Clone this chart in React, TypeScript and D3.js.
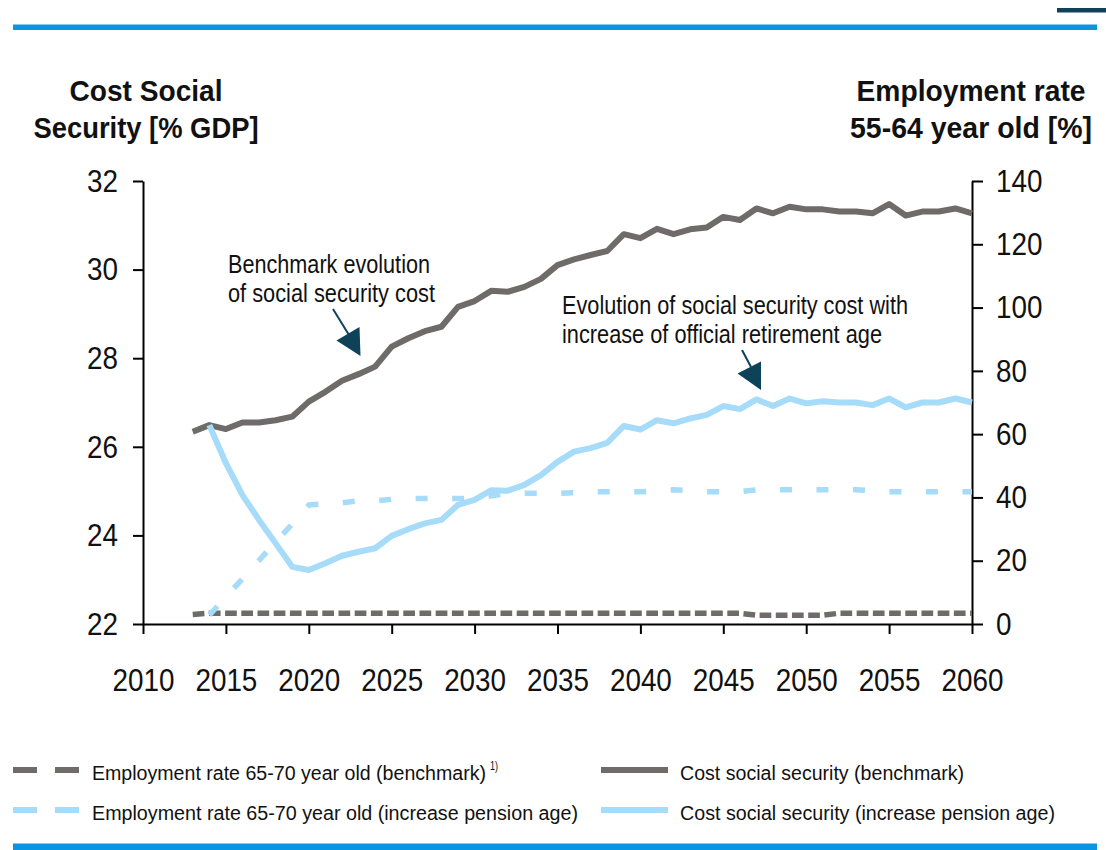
import React, { useEffect, useRef } from "react";
import * as d3 from "d3";

// ---- data ----
const costYears = d3.range(2013, 2061);
const costBenchmark = [
  26.34, 26.49, 26.4, 26.55, 26.55, 26.6, 26.68, 27.02, 27.24, 27.49, 27.64, 27.81,
  28.26, 28.45, 28.61, 28.71, 29.16, 29.29, 29.52, 29.5, 29.61, 29.79, 30.1, 30.23,
  30.33, 30.42, 30.8, 30.71, 30.92, 30.8, 30.91, 30.95, 31.19, 31.12, 31.38, 31.27,
  31.42, 31.36, 31.36, 31.31, 31.31, 31.27, 31.48, 31.22, 31.31, 31.31, 31.38, 31.27,
];
const incYears = d3.range(2014, 2061);
const costIncrease = [
  26.49, 25.63, 24.91, 24.35, 23.82, 23.29, 23.22, 23.37, 23.54, 23.63, 23.71, 23.99,
  24.14, 24.27, 24.35, 24.69, 24.8, 25.02, 25.01, 25.14, 25.36, 25.66, 25.89, 25.97,
  26.09, 26.47, 26.39, 26.6, 26.53, 26.64, 26.72, 26.92, 26.85, 27.07, 26.92, 27.09,
  26.98, 27.03, 27.0, 27.0, 26.94, 27.09, 26.89, 27.0, 27.0, 27.09, 27.0,
];
const empBenchmark = [
  3.0, 3.4, 3.4, 3.4, 3.4, 3.4, 3.4, 3.4, 3.4, 3.4, 3.4, 3.4, 3.4, 3.4, 3.4, 3.4,
  3.4, 3.4, 3.4, 3.4, 3.4, 3.4, 3.4, 3.4, 3.4, 3.4, 3.4, 3.4, 3.4, 3.4, 3.4, 3.4,
  3.4, 3.4, 2.8, 2.8, 2.8, 2.8, 2.8, 3.4, 3.4, 3.4, 3.4, 3.4, 3.4, 3.4, 3.4, 3.4,
];
const empIncrease = [
  2.8, 8.6, 14.3, 20.1, 25.9, 31.6, 37.6, 38.0, 38.3, 38.9, 38.9, 39.4, 39.6, 39.7,
  39.7, 39.7, 39.7, 40.5, 41.3, 41.3, 41.3, 41.3, 41.5, 41.8, 41.8, 41.8, 41.8, 42.1,
  42.4, 42.1, 41.8, 41.8, 41.8, 42.4, 42.4, 42.4, 42.4, 42.4, 42.4, 42.4, 42.1, 41.8,
  41.8, 41.8, 41.8, 41.8, 41.8,
];
const xTicks = [2010, 2015, 2020, 2025, 2030, 2035, 2040, 2045, 2050, 2055, 2060];
const leftTicks = [22, 24, 26, 28, 30, 32];
const rightTicks = [0, 20, 40, 60, 80, 100, 120, 140];
const leftTitle = ["Cost Social", "Security [% GDP]"];
const rightTitle = ["Employment rate", "55-64 year old [%]"];
const note1 = ["Benchmark evolution", "of social security cost"];
const note2 = ["Evolution of social security cost with", "increase of official retirement age"];
const legendItems = [
  { label: "Employment rate 65-70 year old (benchmark)", sup: "1)", kind: "dash", color: "gray" },
  { label: "Cost social security (benchmark)", sup: "", kind: "solid", color: "gray" },
  { label: "Employment rate 65-70 year old (increase pension age)", sup: "", kind: "dash", color: "blue" },
  { label: "Cost social security (increase pension age)", sup: "", kind: "solid", color: "blue" },
];

// text widths of the condensed typeface, in px (layout)
const leftTitleW = [153, 225];
const rightTitleW = [229, 242];
const note1W = [202, 207];
const note2W = [346, 320];
const legendW = [394, 284, 486, 375];

const GRAY = "#6f6b6b";
const BLUE = "#a6dbfa";
const TEAL = "#0d4259";
const RULE = "#0a94e4";
const FONT = "'Liberation Sans', Arial, sans-serif";
const CONDENSE = 0.87; // horizontal squeeze of tick digits

export default function App() {
  const ref = useRef<SVGSVGElement>(null);

  useEffect(() => {
    const svg = d3.select(ref.current);
    svg.selectAll("*").remove();
    const W = 1106, H = 850;
    const m = { left: 143, right: 972, top: 181, bottom: 624 };

    const x = d3.scaleLinear().domain([2010, 2060]).range([m.left, m.right]);
    const yL = d3.scaleLinear().domain([22, 32]).range([m.bottom, m.top]);
    const yR = d3.scaleLinear().domain([0, 140]).range([m.bottom, m.top]);

    const fit = (sel: any, w: number) => sel.attr("textLength", w).attr("lengthAdjust", "spacingAndGlyphs");

    svg.append("rect").attr("width", W).attr("height", H).attr("fill", "#fff");

    // top & bottom rules
    svg.append("rect").attr("x", 1057).attr("y", 8).attr("width", 49).attr("height", 4.5).attr("fill", TEAL);
    svg.append("rect").attr("x", 13).attr("y", 24.5).attr("width", 1084).attr("height", 5.5).attr("fill", RULE);
    svg.append("rect").attr("x", 13).attr("y", 843.5).attr("width", 1084).attr("height", 6.5).attr("fill", RULE);

    // titles
    const tTitle = svg.append("g").attr("font-family", FONT).attr("font-weight", "bold").attr("font-size", 30).attr("fill", "#111").attr("text-anchor", "middle");
    leftTitle.forEach((t, i) => fit(tTitle.append("text").attr("x", 146).attr("y", 101 + i * 36.5).text(t), leftTitleW[i]));
    rightTitle.forEach((t, i) => fit(tTitle.append("text").attr("x", 971).attr("y", 101 + i * 36.5).text(t), rightTitleW[i]));

    // axes
    const styleAxis = (g: any) => {
      g.selectAll("path").attr("stroke", "#000").attr("stroke-width", 2);
      g.selectAll("line").attr("stroke", "#000").attr("stroke-width", 2);
      g.selectAll("text").attr("font-family", FONT).attr("font-size", 32).attr("fill", "#111")
        .each(function (this: SVGTextElement) {
          const t = d3.select(this);
          const x0 = +(t.attr("x") || 0);
          const y0 = +(t.attr("y") || 0);
          t.attr("x", 0).attr("y", 0).attr("transform", `translate(${x0},${y0}) scale(${CONDENSE},1)`);
        });
    };
    svg.append("g").attr("transform", `translate(0,${m.bottom})`)
      .call(d3.axisBottom(x).tickValues(xTicks).tickFormat(d3.format("d")).tickSize(10).tickSizeOuter(0).tickPadding(34))
      .call(styleAxis);
    svg.append("g").attr("transform", `translate(${m.left},0)`)
      .call(d3.axisLeft(yL).tickValues(leftTicks).tickFormat(d3.format("d")).tickSize(10).tickSizeOuter(0).tickPadding(15))
      .call(styleAxis);
    svg.append("g").attr("transform", `translate(${m.right},0)`)
      .call(d3.axisRight(yR).tickValues(rightTicks).tickFormat(d3.format("d")).tickSize(11).tickSizeOuter(0).tickPadding(13))
      .call(styleAxis);
    svg.selectAll(".domain").attr("fill", "none");

    // lines
    const lineL = d3.line<[number, number]>().x((d) => x(d[0])).y((d) => yL(d[1]));
    const lineR = d3.line<[number, number]>().x((d) => x(d[0])).y((d) => yR(d[1]));
    const zip = (xs: number[], ys: number[]) => xs.map((v, i) => [v, ys[i]] as [number, number]);

    const plot = svg.append("g").attr("fill", "none").attr("stroke-linejoin", "round");
    plot.append("path").attr("d", lineR(zip(costYears, empBenchmark))).attr("stroke", GRAY).attr("stroke-width", 5.5).attr("stroke-dasharray", "11.7,4.5");
    plot.append("path").attr("d", lineR(zip(incYears, empIncrease))).attr("stroke", BLUE).attr("stroke-width", 5.5).attr("stroke-dasharray", "12,24.5");
    plot.append("path").attr("d", lineL(zip(costYears, costBenchmark))).attr("stroke", GRAY).attr("stroke-width", 6);
    plot.append("path").attr("d", lineL(zip(incYears, costIncrease))).attr("stroke", BLUE).attr("stroke-width", 6);

    // annotations
    const notes = svg.append("g").attr("font-family", FONT).attr("font-size", 25).attr("fill", "#111");
    note1.forEach((t, i) => fit(notes.append("text").attr("x", 228).attr("y", 273 + i * 28.5).text(t), note1W[i]));
    note2.forEach((t, i) => fit(notes.append("text").attr("x", 562).attr("y", 314 + i * 28.5).text(t), note2W[i]));

    const arrow = (x1: number, y1: number, x2: number, y2: number, tri: [number, number][]) => {
      svg.append("line").attr("x1", x1).attr("y1", y1).attr("x2", x2).attr("y2", y2).attr("stroke", TEAL).attr("stroke-width", 2);
      svg.append("polygon").attr("points", tri.map((p) => p.join(",")).join(" ")).attr("fill", TEAL);
    };
    arrow(333, 309, 349, 335, [[336.5, 340.5], [359.5, 327], [360.5, 356]]);
    arrow(742, 350, 751, 367, [[737.5, 373.5], [761, 361.5], [761, 390]]);

    // legend
    const lg = svg.append("g").attr("font-family", FONT).attr("font-size", 20).attr("fill", "#111");
    legendItems.forEach((it, i) => {
      const col = i % 2, row = Math.floor(i / 2);
      const yy = 770 + row * 40;
      const color = it.color === "gray" ? GRAY : BLUE;
      if (it.kind === "dash") {
        lg.append("line").attr("x1", 13).attr("x2", 79).attr("y1", yy).attr("y2", yy).attr("stroke", color).attr("stroke-width", 6).attr("stroke-dasharray", "24,18");
      } else {
        lg.append("line").attr("x1", 601).attr("x2", 668).attr("y1", yy).attr("y2", yy).attr("stroke", color).attr("stroke-width", 6);
      }
      const tx = col === 0 ? 92 : 680;
      const t = lg.append("text").attr("x", tx).attr("y", yy + 9.5);
      fit(t.append("tspan").text(it.label), legendW[i]);
      if (it.sup) fit(t.append("tspan").attr("x", tx + legendW[i] + 4).attr("dy", -10).attr("font-size", 12).text(it.sup), 8);
    });
  }, []);

  return (
    <svg ref={ref} width={1106} height={850} style={{ position: "absolute", left: 0, top: 0, display: "block" }} />
  );
}
